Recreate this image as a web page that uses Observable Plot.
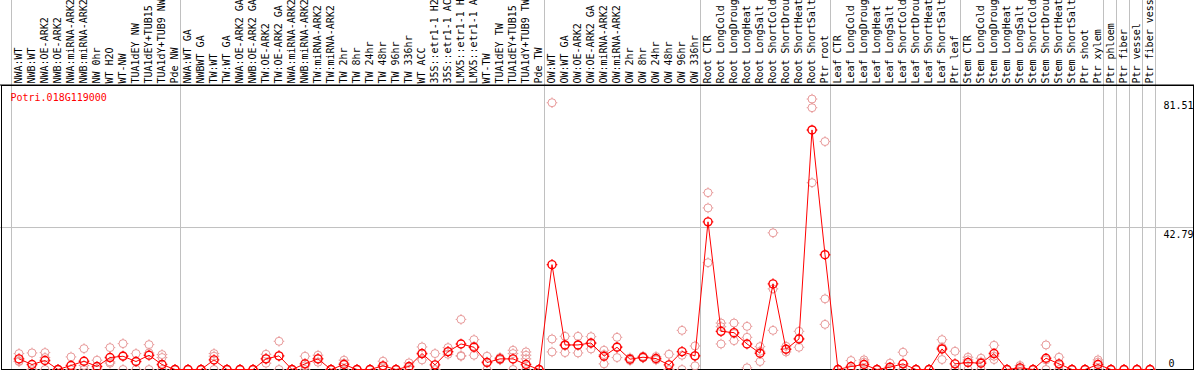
<!DOCTYPE html>
<html>
<head>
<meta charset="utf-8">
<script src="https://cdn.jsdelivr.net/npm/d3@7"></script>
<script src="https://cdn.jsdelivr.net/npm/@observablehq/plot@0.6"></script>
<style>
  html, body { margin: 0; padding: 0; background: #fff; }
  #chart { width: 1194px; height: 370px; overflow: hidden; }
</style>
</head>
<body>
<div id="chart"></div>
<script>
const geneId = "Potri.018G119000";

const labels = [
  "NWA:WT","NWB:WT","NWA:OE-ARK2","NWB:OE-ARK2","NWA:miRNA-ARK2","NWB:miRNA-ARK2","NW 0hr","WT H2O","WT-NW","TUA1dEY NW","TUA1dEY+TUB15 NW","TUA1dY+TUB9 NW","Pde NW",
  "NWA:WT GA","NWBWT GA","TW:WT","TW:WT GA","NWA:OE-ARK2 GA","NWB:OE-ARK2 GA","TW:OE-ARK2","TW:OE-ARK2 GA","NWA:miRNA-ARK2 GA","NWB:miRNA-ARK2 GA","TW:miRNA-ARK2","TW:miRNA-ARK2 GA","TW 2hr","TW 8hr","TW 24hr","TW 48hr","TW 96hr","TW 336hr","WT ACC","35S::etr1-1 H2O","35S::etr1-1 ACC","LMX5::etr1-1 H2O","LMX5::etr1-1 ACC","WT-TW","TUA1dEY TW","TUA1dEY+TUB15 TW","TUA1dY+TUB9 TW","Pde TW",
  "OW:WT","OW:WT GA","OW:OE-ARK2","OW:OE-ARK2 GA","OW:miRNA-ARK2","OW:miRNA-ARK2 GA","OW 2hr","OW 8hr","OW 24hr","OW 48hr","OW 96hr","OW 336hr",
  "Root CTR","Root LongCold","Root LongDrought","Root LongHeat","Root LongSalt","Root ShortCold","Root ShortDrought","Root ShortHeat","Root ShortSalt","Ptr root",
  "Leaf CTR","Leaf LongCold","Leaf LongDrought","Leaf LongHeat","Leaf LongSalt","Leaf ShortCold","Leaf ShortDrought","Leaf ShortHeat","Leaf ShortSalt","Ptr leaf",
  "Stem CTR","Stem LongCold","Stem LongDrought","Stem LongHeat","Stem LongSalt","Stem ShortCold","Stem ShortDrought","Stem ShortHeat","Stem ShortSalt","Ptr shoot","Ptr xylem",
  "Ptr phloem","Ptr fiber","Ptr vessel","Ptr fiber vessel"
];

// sizes of the column groups separated by grey lines
const groupSizes = [13, 28, 12, 10, 10, 11, 1, 1, 1, 1];

const means = [
  3.2,1.5,2.7,0,1.2,2.5,0.9,3.6,4.0,2.4,4.3,1.5,0,
  0,0,2.9,0,0,0,3.2,4.1,0,1.7,3.2,0,1.5,0,0,1.1,0,0.9,4.8,1.4,5.4,7.7,6.7,2.1,3.2,3.2,1.5,0,
  31.6,7.4,7.4,8.0,4.0,6.7,3.1,3.7,3.3,1.4,5.4,4.1,
  44.5,11.5,11.1,7.7,4.9,25.8,6.1,9.2,72.2,34.6,
  0,0.9,1.5,0,0.7,1.7,0,0,6.2,1.7,
  2.1,1.9,4.8,0,0.5,0,3.4,1.7,0,0,1.5,
  0,0,0,0
];

const replicates = [
  [4.8,2.5,2.4],[5.0,0,0],[5.1,3.6,0],[0,0,0],[3.8,0,0],[6.3,1.2,0],[2.8,0,0],[6.6,2.3,1.9],[7.8,4.2,0],[4.8,2.4,0],[7.5,5.0,0],[4.5,3.6,0],[0,0,0],
  [0,0,0],[0,0,0],[4.8,4.0,0],[0,0,0],[0,0,0],[0,0,0],[4.6,3.3,1.9],[8.5,4.1,0],[0,0,0],[4.0,1.1,0],[4.3,3.3,2.2],[0,0,0],[2.8,1.9,0],[0,0,0],[0,0,0],[2.5,0.8,0],[0,0,0],[2.0,0.7,0],[6.8,4.7,2.9],[4.8,0,0],[6.6,5.3,4.6],[15.1,4.2,4.0],[9.0,7.0,4.3],[4.0,2.3,0],[3.6,3.2,2.9],[5.8,4.8,0],[5.3,4.3,3.2,0],[0,0,0],
  [80.4,9.2,5.3],[10.0,7.2,5.1],[10.0,7.3,5.0],[9.9,7.9,6.2],[5.8,4.5,1.7],[9.7,6.9,3.6],[3.5,3.1,2.7],[4.0,3.7,3.5],[3.9,3.2,2.9],[4.6,0,0],[11.8,4.3,0],[7.1,4.2,1.1],
  [53.3,48.7,32.2],[14.0,12.9,7.7],[14.0,10.8,8.7],[13.0,9.7,0.5],[6.9,5.5,2.4],[41.2,24.3,11.8],[7.0,6.1,5.3],[11.5,9.4,6.7],[81.51,78.9,56.3],[68.7,21.3,13.6],
  [0,0,0],[2.7,0,0],[2.9,2.2,0],[0,0,0],[1.9,0.2,0],[5.2,0,0],[0,0,0],[0,0,0],[9.0,6.7,3.0],[5.5,0,0],
  [3.7,2.9,0],[3.4,2.3,0],[7.3,4.0,3.0],[0,0,0],[1.2,0.3,0],[0,0,0],[7.4,2.9,0],[3.7,1.4,0],[0,0,0],[0,0,0],[2.9,2.2,0],
  [0,0,0],[0,0,0],[0,0,0],[0,0,0]
];

const yTicks = [0, 42.79, 81.51];
const yGrid = [42.79];
const yTop = 85.59;

// tables built from the arrays
const cols = labels.map((label, i) => ({i, label, mean: means[i]}));
const reps = replicates.flatMap((arr, i) => arr.map(v => ({i, v})));
const bounds = [0];
groupSizes.forEach(s => bounds.push(bounds[bounds.length - 1] + s));

// circle with four small outer ticks
const tickCircle = {
  draw(ctx, size) {
    const r = Math.sqrt(size / Math.PI), t = 1.3;
    ctx.moveTo(r, 0);
    ctx.arc(0, 0, r, 0, 2 * Math.PI);
    ctx.moveTo(r, 0); ctx.lineTo(r + t, 0);
    ctx.moveTo(-r, 0); ctx.lineTo(-r - t, 0);
    ctx.moveTo(0, r); ctx.lineTo(0, r + t);
    ctx.moveTo(0, -r); ctx.lineTo(0, -r - t);
  }
};

const nCols = labels.length;
const chart = Plot.plot({
  width: 1194,
  height: 370,
  marginTop: 85,
  marginBottom: 1,
  marginLeft: 0,
  marginRight: 0,
  x: {type: "linear", domain: [-11 / 13, nCols + 3], axis: null},
  y: {domain: [0, yTop], axis: null},
  style: {fontFamily: "'DejaVu Sans Mono', monospace", fontSize: "10px", background: "#fff", overflow: "hidden"},
  marks: [
    Plot.ruleY(yGrid, {stroke: "#c0c0c0", strokeWidth: 1}),
    Plot.ruleX(bounds, {x: d => d, stroke: "#c0c0c0", strokeWidth: 1, insetTop: -85}),
    Plot.frame({stroke: "#000", insetLeft: 1, insetRight: 1}),
    Plot.ruleY([0], {stroke: "#000", insetTop: -85, dy: -284.5}),
    Plot.dot(reps, {x: d => d.i + 0.5, y: "v", symbol: tickCircle, r: 4, stroke: "#e89a9a", strokeWidth: 1, dx: 1}),
    Plot.line(cols, {x: d => d.i + 0.5, y: "mean", stroke: "#ff0000", strokeWidth: 1, dx: 1}),
    Plot.dot(cols, {x: d => d.i + 0.5, y: "mean", symbol: tickCircle, r: 4, stroke: "#ff0000", strokeWidth: 1.4, dx: 1}),
    Plot.text(cols, {x: d => d.i + 0.5, text: "label", frameAnchor: "top", dx: 1, dy: -2, rotate: -90, textAnchor: "start", lineAnchor: "middle", fill: "#000"}),
    Plot.text(yTicks.filter(d => d > 0), {y: d => d, text: d => d.toFixed(2), frameAnchor: "right", dx: -1, dy: 3, textAnchor: "end", lineAnchor: "top", fill: "#000"}),
    Plot.text(yTicks.filter(d => d === 0), {y: d => d, text: d => String(d), frameAnchor: "right", dx: -20, dy: -3, textAnchor: "end", lineAnchor: "bottom", fill: "#000"}),
    Plot.text([geneId], {text: d => d, frameAnchor: "top-left", dx: 10, dy: 8, textAnchor: "start", lineAnchor: "top", fill: "#ff0000"})
  ]
});
document.getElementById("chart").appendChild(chart);
</script>
</body>
</html>
